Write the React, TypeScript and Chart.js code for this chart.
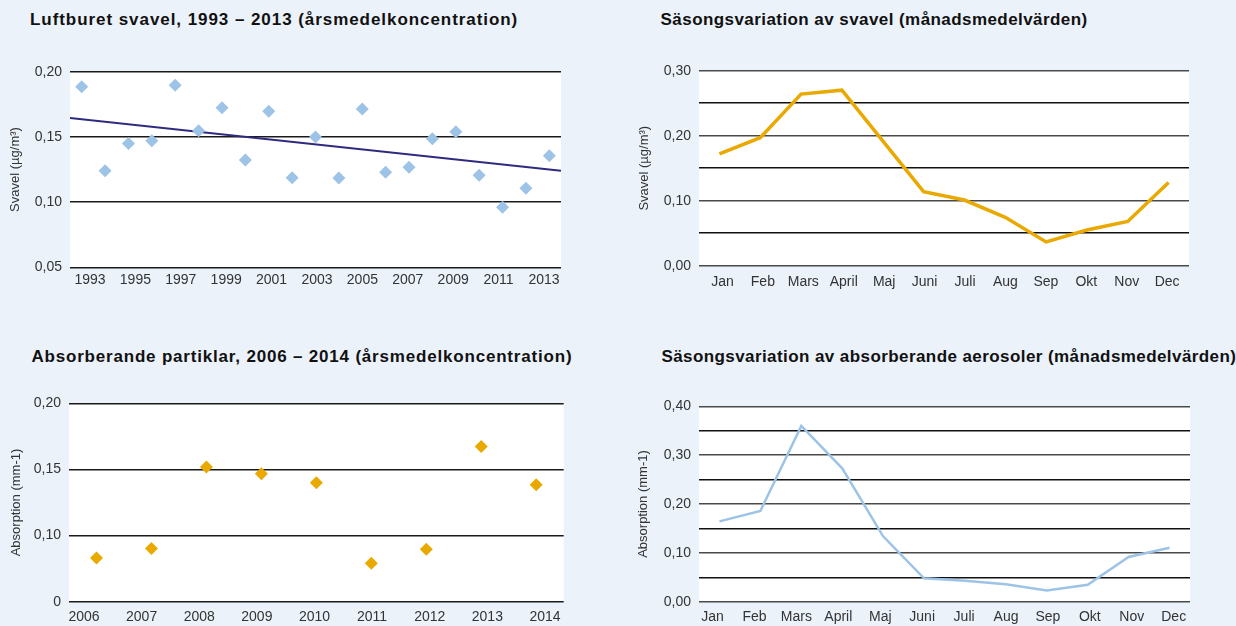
import React, { useEffect, useRef } from 'react';
import { Chart, registerables } from 'chart.js';

Chart.register(...registerables);

// ---------- Data ----------
const sulfurYears = [1993, 1994, 1995, 1996, 1997, 1998, 1999, 2000, 2001, 2002, 2003, 2004, 2005, 2006, 2007, 2008, 2009, 2010, 2011, 2012, 2013];
const sulfurValues = [0.1885, 0.124, 0.145, 0.147, 0.1896, 0.1548, 0.1724, 0.1323, 0.1696, 0.1187, 0.150, 0.1185, 0.1714, 0.1228, 0.1267, 0.1486, 0.154, 0.1205, 0.096, 0.1106, 0.1356];
const sulfurTrendYears = [1992.5, 2013.5];
const sulfurTrendValues = [0.1645, 0.124];
const sulfurYearTicks = [1993, 1995, 1997, 1999, 2001, 2003, 2005, 2007, 2009, 2011, 2013];

const months = ['Jan', 'Feb', 'Mars', 'April', 'Maj', 'Juni', 'Juli', 'Aug', 'Sep', 'Okt', 'Nov', 'Dec'];
const sulfurMonthly = [0.172, 0.197, 0.264, 0.270, 0.192, 0.114, 0.101, 0.0745, 0.0365, 0.055, 0.068, 0.128];

const absYears = [2006, 2007, 2008, 2009, 2010, 2011, 2012, 2013, 2014];
const absValues = [0.0831, 0.0902, 0.1518, 0.1467, 0.1399, 0.0790, 0.0897, 0.1674, 0.1384];

const absMonthly = [0.1645, 0.1857, 0.3597, 0.273, 0.1338, 0.0478, 0.043, 0.0355, 0.0232, 0.0348, 0.0915, 0.1106];

const titles = [
  'Luftburet svavel, 1993 – 2013 (årsmedelkoncentration)',
  'Säsongsvariation av svavel (månadsmedelvärden)',
  'Absorberande partiklar, 2006 – 2014 (årsmedelkoncentration)',
  'Säsongsvariation av absorberande aerosoler (månadsmedelvärden)',
];

// ---------- Styles ----------
const BG = '#EBF2FA';
const BLUE = '#9DC3E6';
const ORANGE = '#E9A900';
const NAVY = '#2E2A7F';
const FONT = "'Liberation Sans', Arial, sans-serif";
const TICK_COLOR = '#333';

const plotBg = {
  id: 'plotBg',
  beforeDraw(chart: any) {
    const { ctx, chartArea: a } = chart;
    ctx.save();
    ctx.fillStyle = '#ffffff';
    ctx.fillRect(a.left, a.top, a.right - a.left, a.bottom - a.top);
    ctx.restore();
  },
};

const comma = (v: number) => v.toFixed(2).replace('.', ',');

function yAxis(o: any) {
  return {
    type: 'linear',
    position: 'left',
    min: o.min,
    max: o.max,
    afterBuildTicks: (s: any) => {
      s.ticks = o.ticks.map((v: number) => ({ value: v }));
    },
    afterFit: (s: any) => {
      s.width = o.width;
    },
    ticks: {
      autoSkip: false,
      padding: 8,
      color: TICK_COLOR,
      font: { family: FONT, size: 14 },
      callback: o.label,
    },
    grid: {
      drawTicks: false,
      lineWidth: o.lineWidth || 1.5,
      color: o.gridColor || '#1a1a1a',
    },
    border: { display: false },
    title: {
      display: true,
      text: o.title,
      color: '#333',
      font: { family: FONT, size: o.titleSize || 13 },
      padding: { top: o.titlePad, bottom: 0 },
    },
  };
}

function labelAxis(o: any) {
  return {
    type: 'linear',
    position: 'bottom',
    min: o.min,
    max: o.max,
    afterBuildTicks: (s: any) => {
      s.ticks = o.values.map((v: number) => ({ value: v }));
    },
    afterFit: (s: any) => {
      s.height = o.height;
    },
    ticks: {
      autoSkip: false,
      maxRotation: 0,
      padding: o.padding,
      color: TICK_COLOR,
      font: { family: FONT, size: 14 },
      callback: o.format,
    },
    grid: { display: false, drawTicks: false },
    border: { display: false },
  };
}

type Box = { x: number; y: number; w: number; h: number };
type Plot = { l: number; t: number; r: number; b: number };

function layout(box: Box, plot: Plot) {
  return {
    padding: { left: 0, top: plot.t - box.y, right: box.x + box.w - plot.r, bottom: 0 },
    yWidth: plot.l - box.x,
    xHeight: box.y + box.h - plot.b,
  };
}

const boxes: Box[] = [
  { x: 0, y: 50, w: 580, h: 260 },
  { x: 618, y: 50, w: 600, h: 260 },
  { x: 0, y: 385, w: 580, h: 241 },
  { x: 618, y: 385, w: 618, h: 241 },
];
const plots: Plot[] = [
  { l: 70, t: 71.7, r: 561, b: 267.3 },
  { l: 699, t: 70.7, r: 1189, b: 265.7 },
  { l: 69, t: 403.3, r: 563.7, b: 601.7 },
  { l: 699, t: 406.3, r: 1190, b: 601.7 },
];

function config1(): any {
  const L = layout(boxes[0], plots[0]);
  return {
    type: 'scatter',
    data: {
      datasets: [
        {
          data: sulfurTrendYears.map((x, i) => ({ x, y: sulfurTrendValues[i] })),
          showLine: true,
          borderColor: NAVY,
          borderWidth: 2,
          pointRadius: 0,
          order: 2,
          xAxisID: 'x',
        },
        {
          data: sulfurYears.map((x, i) => ({ x, y: sulfurValues[i] })),
          pointStyle: 'rectRot',
          pointRadius: 6.5,
          backgroundColor: BLUE,
          borderColor: BLUE,
          borderWidth: 0,
          order: 1,
          xAxisID: 'x',
        },
      ],
    },
    options: {
      responsive: false,
      animation: false,
      layout: { padding: L.padding },
      plugins: { legend: { display: false }, tooltip: { enabled: false } },
      scales: {
        x: { type: 'linear', min: 1992.5, max: 2013.5, display: false },
        xl: labelAxis({ min: 1992.12, max: 2013.75, values: sulfurYearTicks, format: (v: number) => String(v), height: L.xHeight, padding: 4 }),
        y: yAxis({ min: 0.05, max: 0.2, ticks: [0.05, 0.1, 0.15, 0.2], label: (v: number) => comma(v), width: L.yWidth, title: 'Svavel (µg/m³)', titlePad: 8 }),
      },
    },
    plugins: [plotBg],
  };
}

function config2(): any {
  const L = layout(boxes[1], plots[1]);
  return {
    type: 'line',
    data: {
      labels: months,
      datasets: [
        {
          data: sulfurMonthly,
          borderColor: ORANGE,
          borderWidth: 3.5,
          pointRadius: 0,
          tension: 0,
          fill: false,
          xAxisID: 'x',
        },
      ],
    },
    options: {
      responsive: false,
      animation: false,
      layout: { padding: L.padding },
      plugins: { legend: { display: false }, tooltip: { enabled: false } },
      scales: {
        x: { type: 'category', offset: true, display: false },
        xl: labelAxis({ min: -0.58, max: 11.54, values: months.map((_, i) => i), format: (v: number) => months[v], height: L.xHeight, padding: 7.6 }),
        y: yAxis({
          min: 0,
          max: 0.3,
          ticks: [0, 0.05, 0.1, 0.15, 0.2, 0.25, 0.3],
          label: (v: number) => (Math.round(v * 20) % 2 === 0 ? comma(v) : ''),
          gridColor: (c: any) => (c.tick && Math.round(c.tick.value * 20) % 2 === 0 ? '#4a4a4a' : '#111'),
          width: L.yWidth,
          title: 'Svavel (µg/m³)',
          titlePad: 19,
        }),
      },
    },
    plugins: [plotBg],
  };
}

function config3(): any {
  const L = layout(boxes[2], plots[2]);
  return {
    type: 'scatter',
    data: {
      datasets: [
        {
          data: absYears.map((x, i) => ({ x, y: absValues[i] })),
          pointStyle: 'rectRot',
          pointRadius: 6.5,
          backgroundColor: ORANGE,
          borderColor: ORANGE,
          borderWidth: 0,
          xAxisID: 'x',
        },
      ],
    },
    options: {
      responsive: false,
      animation: false,
      layout: { padding: L.padding },
      plugins: { legend: { display: false }, tooltip: { enabled: false } },
      scales: {
        x: { type: 'linear', min: 2005.5, max: 2014.5, display: false },
        xl: labelAxis({ min: 2005.74, max: 2014.325, values: absYears, format: (v: number) => String(v), height: L.xHeight, padding: 7.2 }),
        y: yAxis({
          min: 0.05,
          max: 0.2,
          ticks: [0.05, 0.1, 0.15, 0.2],
          label: (v: number) => (v < 0.06 ? '0' : comma(v)),
          width: L.yWidth,
          title: 'Absorption (mm-1)',
          titlePad: 9,
        }),
      },
    },
    plugins: [plotBg],
  };
}

function config4(): any {
  const L = layout(boxes[3], plots[3]);
  return {
    type: 'line',
    data: {
      labels: months,
      datasets: [
        {
          data: absMonthly,
          borderColor: BLUE,
          borderWidth: 2.5,
          pointRadius: 0,
          tension: 0,
          fill: false,
          xAxisID: 'x',
        },
      ],
    },
    options: {
      responsive: false,
      animation: false,
      layout: { padding: L.padding },
      plugins: { legend: { display: false }, tooltip: { enabled: false } },
      scales: {
        x: { type: 'category', offset: true, display: false },
        xl: labelAxis({ min: -0.324, max: 11.389, values: months.map((_, i) => i), format: (v: number) => months[v], height: L.xHeight, padding: 7.2 }),
        y: yAxis({
          min: 0,
          max: 0.4,
          ticks: [0, 0.05, 0.1, 0.15, 0.2, 0.25, 0.3, 0.35, 0.4],
          label: (v: number) => (Math.round(v * 20) % 2 === 0 ? comma(v) : ''),
          gridColor: (c: any) => (c.tick && Math.round(c.tick.value * 20) % 2 === 0 ? '#4a4a4a' : '#111'),
          width: L.yWidth,
          title: 'Absorption (mm-1)',
          titlePad: 18,
        }),
      },
    },
    plugins: [plotBg],
  };
}

function ChartCanvas({ box, make }: { box: Box; make: () => any }) {
  const ref = useRef<HTMLCanvasElement | null>(null);
  useEffect(() => {
    if (!ref.current) return;
    const chart = new Chart(ref.current, make());
    return () => chart.destroy();
  }, []);
  return (
    <canvas
      ref={ref}
      width={box.w}
      height={box.h}
      style={{ position: 'absolute', left: box.x, top: box.y, width: box.w, height: box.h }}
    />
  );
}

const titleStyles = [
  { left: 30, top: 10, spacing: 0.94 },
  { left: 660.6, top: 10, spacing: 0.43 },
  { left: 31.4, top: 347, spacing: 0.81 },
  { left: 661.4, top: 347, spacing: 0.42 },
];

export default function App() {
  const makers = [config1, config2, config3, config4];
  return (
    <div
      style={{
        position: 'fixed',
        left: 0,
        top: 0,
        width: 1236,
        height: 626,
        overflow: 'hidden',
        background: BG,
      }}
    >
      {titles.map((t, i) => (
        <div
          key={i}
          style={{
            position: 'absolute',
            left: titleStyles[i].left,
            top: titleStyles[i].top,
            whiteSpace: 'nowrap',
            fontFamily: FONT,
            fontWeight: 'bold',
            fontSize: 17,
            lineHeight: '19px',
            letterSpacing: titleStyles[i].spacing,
            color: '#111',
          }}
        >
          {t}
        </div>
      ))}
      {makers.map((m, i) => (
        <ChartCanvas key={i} box={boxes[i]} make={m} />
      ))}
    </div>
  );
}
